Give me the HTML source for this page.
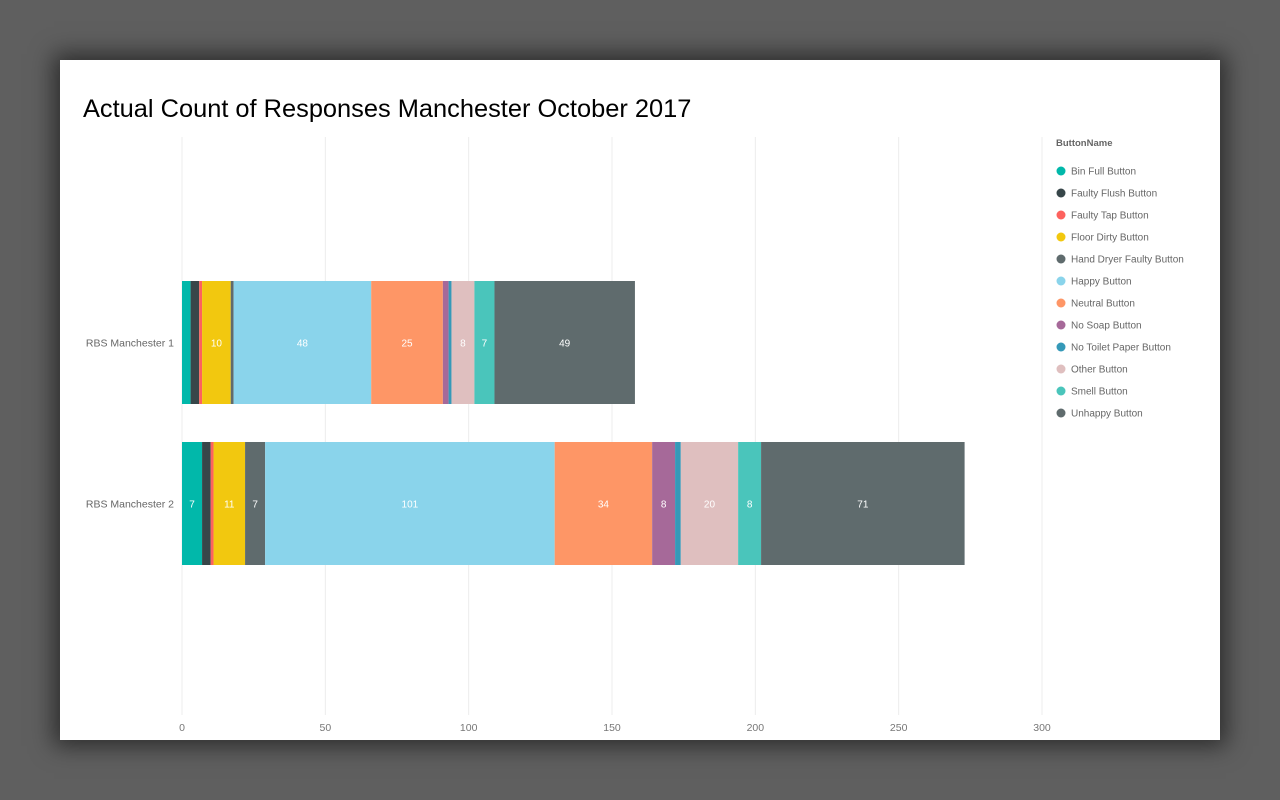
<!DOCTYPE html>
<html><head><meta charset="utf-8"><style>
body{margin:0;background:#5f5f5f;width:1280px;height:800px;overflow:hidden;font-family:"Liberation Sans",sans-serif}
#card{position:absolute;left:60px;top:60px;width:1160px;height:680px;background:#fff;box-shadow:0 0 22px 6px rgba(0,0,0,.55)}
svg{position:absolute;left:0;top:0}
</style></head><body>
<div id="card"></div>
<svg id="chart" width="1280" height="800">
<text x="83" y="117" font-size="25.4" fill="#000">Actual Count of Responses Manchester October 2017</text>
<g id="grid"></g><g id="bars"></g><g id="legend"></g>
</svg>
<script>
const categories=["RBS Manchester 1","RBS Manchester 2"];
const seriesNames=["Bin Full Button","Faulty Flush Button","Faulty Tap Button","Floor Dirty Button","Hand Dryer Faulty Button","Happy Button","Neutral Button","No Soap Button","No Toilet Paper Button","Other Button","Smell Button","Unhappy Button"];
const colors=["#01b8aa","#374649","#fd625e","#f2c80f","#5f6b6d","#8ad4eb","#fe9666","#a66999","#3599b8","#dfbfbf","#4ac5bb","#5f6b6d"];
const valuesRow1=[3,3,1,10,1,48,25,2,1,8,7,49];
const valuesRow2=[7,3,1,11,7,101,34,8,2,20,8,71];
const values=[valuesRow1,valuesRow2];
const ticks=[0,50,100,150,200,250,300];
const NS="http://www.w3.org/2000/svg";
const x=v=>182+v*(860/300);
const rowY=[281,442],bh=123;
function mk(t,a,p){const e=document.createElementNS(NS,t);for(const k in a)e.setAttribute(k,a[k]);p.appendChild(e);return e;}
const grid=document.getElementById('grid');
ticks.forEach(t=>{
 const l=mk('line',{x1:x(t),x2:x(t),y1:137,y2:715,stroke:'#ececec','stroke-width':1},grid);
 
 
 const tx=mk('text',{x:x(t),y:731,'font-size':10.5,fill:'#777','text-anchor':'middle'},grid);
 tx.textContent=t;
 
 
});
const bars=document.getElementById('bars');
categories.forEach((c,i)=>{
 const lab=mk('text',{x:174,y:rowY[i]+bh/2+4,'font-size':10.5,fill:'#666','text-anchor':'end'},bars);
 lab.textContent=c;
 
 
 let acc=0;
 values[i].forEach((v,j)=>{
  const x0=x(acc),x1=x(acc+v);acc+=v;
  const r=mk('rect',{x:x0,y:rowY[i],width:x1-x0,height:bh,fill:colors[j]},bars);
  
  
  if(x1-x0>15){
   const t=mk('text',{x:(x0+x1)/2,y:rowY[i]+bh/2+4,'font-size':10,fill:'#fff','text-anchor':'middle'},bars);
   t.textContent=v;
   
   
  }
 });
});
const lg=document.getElementById('legend');
const lt=mk('text',{x:1056,y:146,'font-size':9.5,fill:'#666','font-weight':'bold'},lg);
lt.textContent='ButtonName';


seriesNames.forEach((n,j)=>{
 const y=171+j*22;
 const c=mk('circle',{cx:1061,cy:y,r:4.5,fill:colors[j]},lg);
 
 
 const t=mk('text',{x:1071,y:y+3.5,'font-size':10,fill:'#666'},lg);
 t.textContent=n;
 
 
});
</script>
</body></html>
